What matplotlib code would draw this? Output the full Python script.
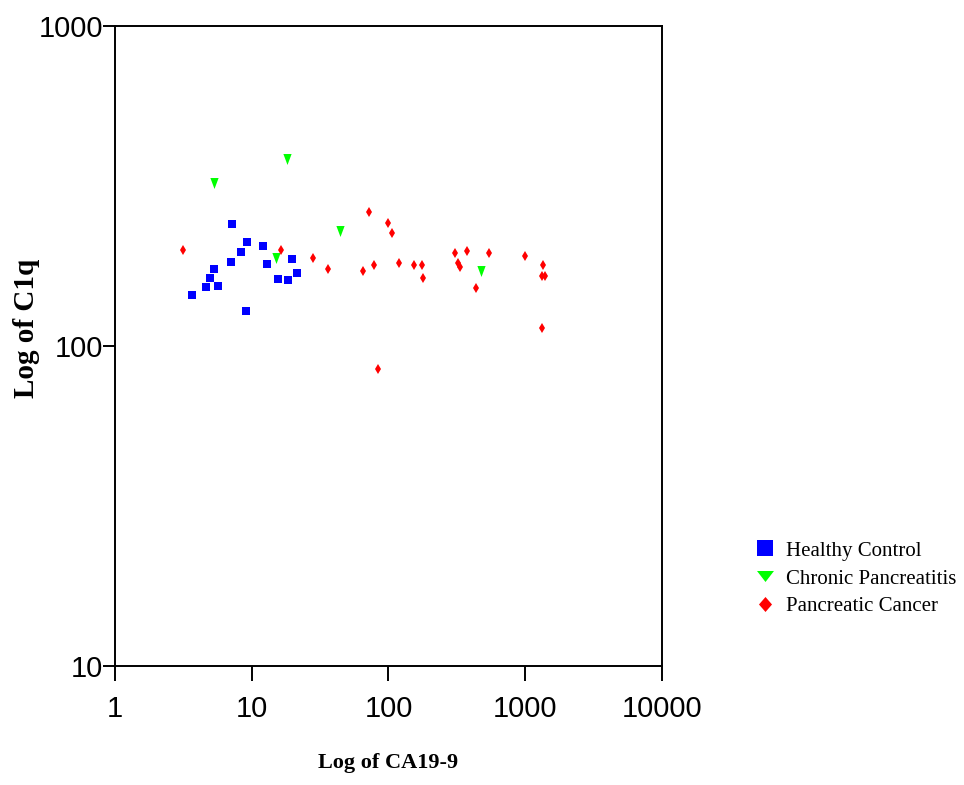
import matplotlib
matplotlib.use('Agg')
import matplotlib.pyplot as plt
from matplotlib.lines import Line2D
from matplotlib import ticker
import numpy as np

# values (CA19-9 on x, C1q on y)
healthy_ca = [7.2, 9.2, 8.3, 12.0, 7.0, 13.0, 19.6, 5.3, 4.95, 4.6, 5.7, 3.64, 15.6, 18.5, 21.6, 9.1]
healthy_c1q = [241, 211, 196, 206, 183, 180, 187, 174, 163, 153, 154, 144, 162, 161, 169, 129]

chronic_ca = [5.3, 18.0, 44.0, 15.0, 471]
chronic_c1q = [322, 383, 228, 188, 171]

cancer_ca = [3.13, 16.5, 27.9, 35.9, 71.9, 99.5, 106, 65.3, 78.6, 118.5, 153, 175, 179, 84,
             309, 374, 323, 331, 539, 433, 998, 1338, 1316, 1398, 1316]
cancer_c1q = [200, 199, 188, 174, 262, 243, 225, 172, 179, 182, 179, 179, 163.5, 85,
              195, 198, 182, 176, 195, 151.5, 191.5, 179, 165, 166, 114]

x_ticks = [1, 10, 100, 1000, 10000]
y_ticks = [10, 100, 1000]
labels = ['Healthy Control', 'Chronic Pancreatitis', 'Pancreatic Cancer']
colors = ['#0000FF', '#00FF00', '#FF0000']

tick_font = ['Liberation Sans Narrow', 'Liberation Sans', 'DejaVu Sans']
serif = ['Liberation Serif', 'DejaVu Serif']

fig = plt.figure(figsize=(9.64, 7.85), dpi=100)
ax = fig.add_axes([0.1193, 0.1516, 0.5674, 0.8153])

# narrow down triangle for the data, wider one for the legend
tri_data = [(-0.75, 1), (0.75, 1), (0, -1)]
tri_leg = [(-1, 0.65), (1, 0.65), (0, -0.65)]
dia_leg = [(0, 1), (0.87, 0), (0, -1), (-0.87, 0)]

ax.plot(healthy_ca, healthy_c1q, ls='none', marker='s', ms=6.4, color=colors[0], mew=0)
ax.plot(chronic_ca, chronic_c1q, ls='none', marker=tri_data, ms=7.9, color=colors[1], mew=0)
ax.plot(cancer_ca, cancer_c1q, ls='none', marker='d', ms=5.1, color=colors[2], mew=0)

ax.set_xscale('log')
ax.set_yscale('log')
ax.set_xlim(1, 10000)
ax.set_ylim(10, 1000)
ax.xaxis.set_major_locator(ticker.FixedLocator(x_ticks))
ax.yaxis.set_major_locator(ticker.FixedLocator(y_ticks))
ax.xaxis.set_minor_locator(ticker.NullLocator())
ax.yaxis.set_minor_locator(ticker.NullLocator())
ax.xaxis.set_major_formatter(ticker.FixedFormatter([str(v) for v in x_ticks]))
ax.yaxis.set_major_formatter(ticker.FixedFormatter([str(v) for v in y_ticks]))

for s in ax.spines.values():
    s.set_linewidth(1.4)
    s.set_color('black')
ax.tick_params(axis='x', direction='out', length=11, width=1.4, pad=10)
ax.tick_params(axis='y', direction='out', length=8.6, width=1.4, pad=0)
for lab in ax.get_xticklabels() + ax.get_yticklabels():
    lab.set_family(tick_font)
    lab.set_fontsize(21)

ax.set_xlabel('Log of CA19-9', family=serif, fontweight='bold', fontsize=16)
ax.set_ylabel('Log of C1q', family=serif, fontweight='bold', fontsize=21)
ax.xaxis.set_label_coords(0.5, -0.136)
ax.yaxis.set_label_coords(-0.137, 0.527)

handles = [
    Line2D([], [], ls='none', marker='s', ms=11.2, color=colors[0], mew=0),
    Line2D([], [], ls='none', marker=tri_leg, ms=12.2, color=colors[1], mew=0),
    Line2D([], [], ls='none', marker=dia_leg, ms=10.8, color=colors[2], mew=0),
]
fig.legend(handles, labels, loc='upper left', bbox_to_anchor=(0.7827, 0.3108),
           frameon=False, borderpad=0, borderaxespad=0, handlelength=1.0,
           handletextpad=0.5, labelspacing=0.4, numpoints=1,
           prop={'family': serif, 'size': 15})

fig.savefig('out.png', dpi=100)
